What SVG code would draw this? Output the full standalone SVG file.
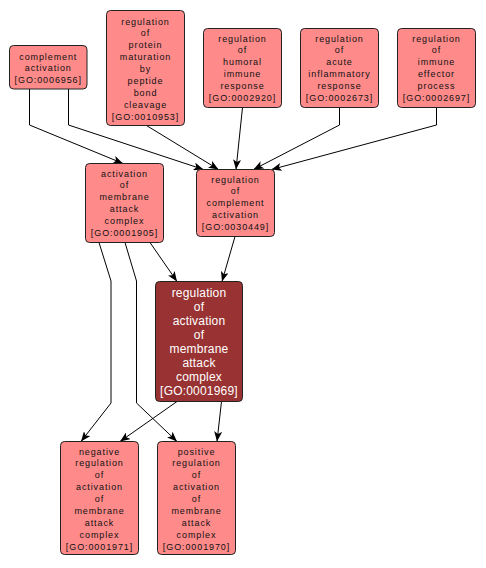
<svg xmlns="http://www.w3.org/2000/svg" width="486" height="568" viewBox="0 0 486 568">
<style>
.n rect{fill:#ff8a8a;stroke:#222;stroke-width:1}
.n text{font-family:"Liberation Sans",Arial,sans-serif;font-size:9px;letter-spacing:0.9px;fill:#111;text-anchor:middle}
.d rect{fill:#993232;stroke:#222;stroke-width:1}
.d text{font-family:"Liberation Sans",Arial,sans-serif;font-size:12px;letter-spacing:0.2px;fill:#fff;text-anchor:middle}
#edges path{fill:none;stroke:#000;stroke-width:1;marker-end:url(#arr)}
</style>
<defs>
<marker id="arr" markerUnits="userSpaceOnUse" markerWidth="10" markerHeight="8" refX="10" refY="4" orient="auto">
<path d="M0,0 L10,4 L0,8 L2.5,4 z" fill="#000"/>
</marker>
</defs>
<rect width="486" height="568" fill="#fff"/>
<g id="edges">
<path d="M29.5,89 L29.5,125 L123,163.5"/>
<path d="M68.5,89 L68.5,125 L203.5,169.5"/>
<path d="M146.5,125.5 L218.5,169.5"/>
<path d="M242.5,107.5 L236,169.5"/>
<path d="M339.5,107.5 L339.5,125 L253.5,169.5"/>
<path d="M436.5,107.5 L436.5,125 L271.5,169.5"/>
<path d="M150,242.5 L177,281.5"/>
<path d="M235,236.5 L222,281.5"/>
<path d="M99,242.5 L111,281 L111,403 L81,441.5"/>
<path d="M125,242.5 L136.5,281 L136.5,403 L177,441.5"/>
<path d="M177,401.5 L120,441.5"/>
<path d="M221.5,401.5 L217,441.5"/>
</g>
<g id="GO0006956" class="n">
<rect x="9.5" y="45.5" width="77.5" height="43.5" rx="4"/>
<text x="48.25" y="59.5">complement</text>
<text x="48.25" y="71.4">activation</text>
<text x="48.25" y="83.3">[GO:0006956]</text>
</g>
<g id="GO0010953" class="n">
<rect x="106.5" y="10.5" width="78" height="115" rx="4"/>
<text x="145.5" y="24.5">regulation</text>
<text x="145.5" y="36.4">of</text>
<text x="145.5" y="48.3">protein</text>
<text x="145.5" y="60.2">maturation</text>
<text x="145.5" y="72.1">by</text>
<text x="145.5" y="84">peptide</text>
<text x="145.5" y="95.9">bond</text>
<text x="145.5" y="107.8">cleavage</text>
<text x="145.5" y="119.7">[GO:0010953]</text>
</g>
<g id="GO0002920" class="n">
<rect x="203.5" y="28.5" width="78" height="79" rx="4"/>
<text x="242.5" y="41.5">regulation</text>
<text x="242.5" y="53.4">of</text>
<text x="242.5" y="65.3">humoral</text>
<text x="242.5" y="77.2">immune</text>
<text x="242.5" y="89.1">response</text>
<text x="242.5" y="101">[GO:0002920]</text>
</g>
<g id="GO0002673" class="n">
<rect x="300.5" y="28.5" width="78" height="79" rx="4"/>
<text x="339.5" y="41.5">regulation</text>
<text x="339.5" y="53.4">of</text>
<text x="339.5" y="65.3">acute</text>
<text x="339.5" y="77.2">inflammatory</text>
<text x="339.5" y="89.1">response</text>
<text x="339.5" y="101">[GO:0002673]</text>
</g>
<g id="GO0002697" class="n">
<rect x="397.5" y="28.5" width="78" height="79" rx="4"/>
<text x="436.5" y="41.5">regulation</text>
<text x="436.5" y="53.4">of</text>
<text x="436.5" y="65.3">immune</text>
<text x="436.5" y="77.2">effector</text>
<text x="436.5" y="89.1">process</text>
<text x="436.5" y="101">[GO:0002697]</text>
</g>
<g id="GO0001905" class="n">
<rect x="85.5" y="163.5" width="78" height="79" rx="4"/>
<text x="124.5" y="176.5">activation</text>
<text x="124.5" y="188.4">of</text>
<text x="124.5" y="200.3">membrane</text>
<text x="124.5" y="212.2">attack</text>
<text x="124.5" y="224.1">complex</text>
<text x="124.5" y="236">[GO:0001905]</text>
</g>
<g id="GO0030449" class="n">
<rect x="196.5" y="169.5" width="78" height="67" rx="4"/>
<text x="235.5" y="182.5">regulation</text>
<text x="235.5" y="194.4">of</text>
<text x="235.5" y="206.3">complement</text>
<text x="235.5" y="218.2">activation</text>
<text x="235.5" y="230.1">[GO:0030449]</text>
</g>
<g id="GO0001969" class="d">
<rect x="155.5" y="281.5" width="87" height="120" rx="4"/>
<text x="199" y="297">regulation</text>
<text x="199" y="311">of</text>
<text x="199" y="325">activation</text>
<text x="199" y="339">of</text>
<text x="199" y="353">membrane</text>
<text x="199" y="367">attack</text>
<text x="199" y="381">complex</text>
<text x="199" y="395">[GO:0001969]</text>
</g>
<g id="GO0001971" class="n">
<rect x="60.5" y="441.5" width="78" height="113" rx="4"/>
<text x="99.5" y="454.5">negative</text>
<text x="99.5" y="466.4">regulation</text>
<text x="99.5" y="478.3">of</text>
<text x="99.5" y="490.2">activation</text>
<text x="99.5" y="502.1">of</text>
<text x="99.5" y="514">membrane</text>
<text x="99.5" y="525.9">attack</text>
<text x="99.5" y="537.8">complex</text>
<text x="99.5" y="549.7">[GO:0001971]</text>
</g>
<g id="GO0001970" class="n">
<rect x="157.5" y="441.5" width="78" height="113" rx="4"/>
<text x="196.5" y="454.5">positive</text>
<text x="196.5" y="466.4">regulation</text>
<text x="196.5" y="478.3">of</text>
<text x="196.5" y="490.2">activation</text>
<text x="196.5" y="502.1">of</text>
<text x="196.5" y="514">membrane</text>
<text x="196.5" y="525.9">attack</text>
<text x="196.5" y="537.8">complex</text>
<text x="196.5" y="549.7">[GO:0001970]</text>
</g>
</svg>
